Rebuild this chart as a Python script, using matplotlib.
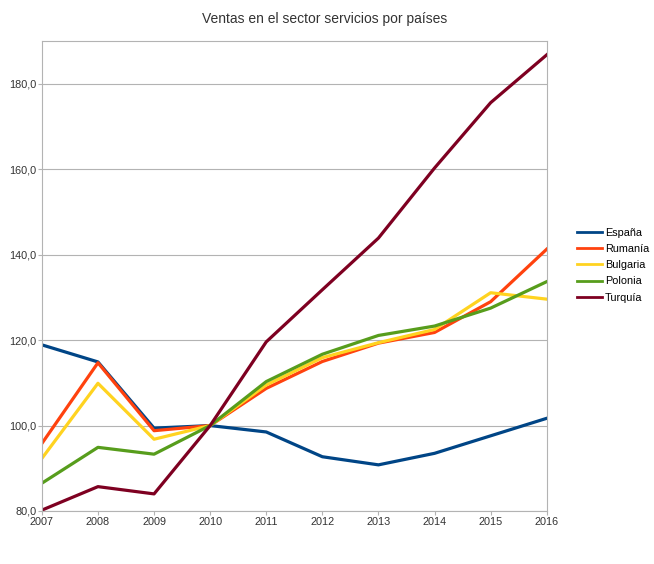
import matplotlib.pyplot as plt
from matplotlib.ticker import FuncFormatter

plt.rcParams['font.family'] = ['Liberation Sans', 'DejaVu Sans']

years = [2007, 2008, 2009, 2010, 2011, 2012, 2013, 2014, 2015, 2016]
espana = [118.9, 114.9, 99.4, 100.0, 98.5, 92.7, 90.8, 93.5, 97.6, 101.7]
rumania = [95.8, 114.7, 98.8, 100.0, 108.7, 115.0, 119.3, 121.8, 129.0, 141.3]
bulgaria = [92.3, 109.9, 96.8, 100.0, 109.5, 115.9, 119.4, 122.5, 131.1, 129.6]
polonia = [86.5, 94.9, 93.3, 100.0, 110.3, 116.7, 121.1, 123.3, 127.5, 133.7]
turquia = [80.2, 85.7, 84.0, 100.0, 119.6, 131.8, 143.9, 160.3, 175.6, 186.8]

series = [('España', espana, '#004586'),
          ('Rumanía', rumania, '#ff420e'),
          ('Bulgaria', bulgaria, '#ffd320'),
          ('Polonia', polonia, '#579d1c'),
          ('Turquía', turquia, '#7e0021')]

fig = plt.figure(figsize=(6.54, 5.64), dpi=100)
ax = fig.add_axes([0.064, 0.094, 0.772, 0.833])

for name, vals, col in series:
    ax.plot(years, vals, color=col, lw=2.3, label=name, solid_joinstyle='round')

ax.set_xlim(2007, 2016)
ax.set_ylim(80, 190)
ax.set_xticks(years)
ax.set_yticks([80, 100, 120, 140, 160, 180])
ax.yaxis.set_major_formatter(FuncFormatter(lambda v, p: '{:.1f}'.format(v).replace('.', ',')))
ax.grid(axis='y', color='#b3b3b3', lw=0.8)
ax.set_axisbelow(True)
for s in ax.spines.values():
    s.set_color('#b3b3b3')
    s.set_linewidth(0.8)
ax.tick_params(colors='#b3b3b3', labelcolor='#333333', labelsize=7.8, length=3, width=0.8, pad=1)

fig.suptitle('Ventas en el sector servicios por países', x=0.497, y=0.978, fontsize=10, color='#333333')

leg = fig.legend(loc='center left', bbox_to_anchor=(0.868, 0.53), frameon=False, fontsize=7.8,
                 handlelength=2.3, handletextpad=0.25, labelspacing=0.58)
for h in leg.get_lines():
    h.set_linewidth(2)

plt.savefig('out.png', dpi=100)
